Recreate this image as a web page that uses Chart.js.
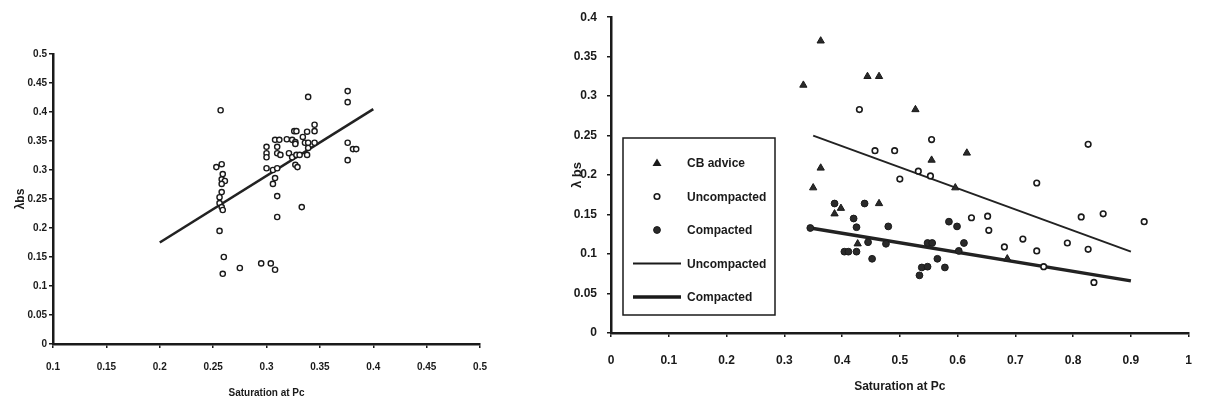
<!DOCTYPE html>
<html>
<head>
<meta charset="utf-8">
<script src="https://cdn.jsdelivr.net/npm/chart.js@4"></script>
<style>
body { margin: 0; background: #fff; width: 1208px; height: 405px; overflow: hidden; position: relative; }
canvas { position: absolute; top: 0; }
#leftChart { left: 0; }
#rightChart { left: 520px; }
</style>
</head>
<body>
<canvas id="leftChart" width="500" height="405"></canvas>
<canvas id="rightChart" width="688" height="405"></canvas>
<script>
// --- left plot: saturation vs lambda ---
const leftSat = [0.257,0.253,0.258,0.259,0.258,0.261,0.258,0.258,0.256,0.256,0.258,0.259,0.256,0.260,0.259,0.275,0.295,0.304,0.308,
    0.300,0.300,0.300,0.308,0.312,0.310,0.310,0.313,0.300,0.306,0.310,0.308,0.306,0.310,0.310,0.333,0.319,0.326,0.328,0.324,0.327,
    0.327,0.321,0.324,0.328,0.331,0.327,0.329,0.334,0.336,0.338,0.339,0.339,0.338,0.345,0.345,0.345,0.339,0.376,0.376,0.376,0.381,0.384,0.376];
const leftLambda = [0.403,0.305,0.310,0.293,0.284,0.281,0.276,0.262,0.253,0.243,0.236,0.231,0.195,0.150,0.121,0.131,0.139,0.139,0.128,
    0.340,0.329,0.322,0.352,0.352,0.340,0.329,0.326,0.303,0.300,0.303,0.286,0.276,0.255,0.219,0.236,0.353,0.367,0.367,0.352,0.348,
    0.345,0.329,0.322,0.326,0.326,0.309,0.305,0.357,0.347,0.366,0.347,0.338,0.326,0.378,0.367,0.347,0.426,0.436,0.417,0.347,0.336,0.336,0.317];
const leftFitX = [0.2, 0.4];
const leftFitY = [0.175, 0.405];

// --- right plot ---
const cbSat = [0.333,0.363,0.444,0.464,0.363,0.350,0.527,0.555,0.616,0.596,0.398,0.387,0.464,0.427,0.686];
const cbLambda = [0.314,0.370,0.325,0.325,0.209,0.184,0.283,0.219,0.228,0.184,0.158,0.151,0.164,0.113,0.094];
const uncSat = [0.430,0.457,0.491,0.555,0.532,0.553,0.500,0.737,0.826,0.624,0.652,0.654,0.681,0.713,0.737,0.749,0.790,0.814,0.826,0.836,0.852,0.923];
const uncLambda = [0.283,0.231,0.231,0.245,0.205,0.199,0.195,0.190,0.239,0.146,0.148,0.130,0.109,0.119,0.104,0.084,0.114,0.147,0.106,0.064,0.151,0.141];
const compSat = [0.345,0.387,0.439,0.420,0.425,0.480,0.445,0.476,0.404,0.411,0.425,0.452,0.548,0.556,0.585,0.599,0.611,0.602,0.565,0.578,0.538,0.548,0.534];
const compLambda = [0.133,0.164,0.164,0.145,0.134,0.135,0.115,0.113,0.103,0.103,0.103,0.094,0.114,0.114,0.141,0.135,0.114,0.104,0.094,0.083,0.083,0.084,0.073];
const uncFitX = [0.35, 0.9];
const uncFitY = [0.25, 0.103];
const compFitX = [0.345, 0.9];
const compFitY = [0.133, 0.066];

const pts = (xs, ys) => xs.map((x, i) => ({ x: x, y: ys[i] }));
const FONT = '"Liberation Sans", Arial, sans-serif';
const INK = '#1a1a1a';

function axis(min, max, step, size, pad, titleText, titleSize, titlePad, fitSize, horiz) {
    return {
        type: 'linear', min: min, max: max,
        border: { color: INK, width: 2.5 },
        grid: { drawOnChartArea: false, drawTicks: true, tickLength: 4, color: INK, lineWidth: 1.5 },
        ticks: { stepSize: step, color: INK, padding: pad, maxRotation: 0, autoSkip: false,
                 font: { family: FONT, size: size, weight: 'bold' },
                 callback: v => String(+v.toFixed(2)) },
        title: { display: true, text: titleText, color: INK, font: { family: FONT, size: titleSize, weight: 'bold' }, padding: titlePad },
        afterFit: s => { if (horiz) s.height = fitSize; else s.width = fitSize; }
    };
}

// Left
new Chart(document.getElementById('leftChart'), {
    type: 'scatter',
    data: {
        datasets: [
            { label: 'data', data: pts(leftSat, leftLambda), pointStyle: 'circle', pointRadius: 2.6,
              borderColor: INK, backgroundColor: '#fff', borderWidth: 1.4 },
            { label: 'fit', data: pts(leftFitX, leftFitY), showLine: true, pointRadius: 0,
              borderColor: '#222', borderWidth: 2.6 }
        ]
    },
    options: {
        responsive: false, animation: false, devicePixelRatio: 1,
        layout: { padding: { top: 54, right: 18, left: 0, bottom: 0 } },
        plugins: { legend: { display: false }, tooltip: { enabled: false } },
        scales: {
            x: axis(0.1, 0.5, 0.05, 10, 13, 'Saturation at Pc', 10, { top: 0, bottom: 6 }, 61, true),
            y: axis(0, 0.5, 0.05, 10, 2, 'λbs', 12, { top: 13, bottom: 0 }, 53, false)
        }
    }
});

// legend box drawn inside the plot, like the original
const boxLegend = {
    id: 'boxLegend',
    afterDraw(chart) {
        const ctx = chart.ctx;
        const bx = 103, by = 138, bw = 152, bh = 177;
        ctx.save();
        ctx.fillStyle = '#fff';
        ctx.fillRect(bx, by, bw, bh);
        ctx.strokeStyle = INK; ctx.lineWidth = 1.5;
        ctx.strokeRect(bx, by, bw, bh);
        ctx.font = 'bold 12px ' + FONT;
        ctx.textBaseline = 'middle';
        chart.data.datasets.forEach((ds, i) => {
            const y = by + 25 + i * 33.5;
            const sx = bx + 34;
            ctx.fillStyle = INK; ctx.strokeStyle = INK;
            if (ds.showLine) {
                ctx.lineWidth = ds.borderWidth;
                ctx.beginPath(); ctx.moveTo(bx + 10, y); ctx.lineTo(bx + 58, y); ctx.stroke();
            } else if (ds.pointStyle === 'triangle') {
                ctx.beginPath(); ctx.moveTo(sx, y - 4.5); ctx.lineTo(sx + 4.5, y + 3); ctx.lineTo(sx - 4.5, y + 3); ctx.closePath(); ctx.fill();
            } else {
                ctx.beginPath(); ctx.arc(sx, y, ds.pointRadius, 0, Math.PI * 2);
                ctx.fillStyle = ds.backgroundColor; ctx.fill();
                ctx.lineWidth = ds.borderWidth; ctx.stroke();
            }
            ctx.fillStyle = INK;
            ctx.fillText(ds.label, bx + 64, y + 1);
        });
        ctx.restore();
    }
};

// Right
new Chart(document.getElementById('rightChart'), {
    type: 'scatter',
    data: {
        datasets: [
            { label: 'CB advice', data: pts(cbSat, cbLambda), pointStyle: 'triangle', pointRadius: 4.2,
              borderColor: INK, backgroundColor: '#2a2a2a', borderWidth: 1 },
            { label: 'Uncompacted', data: pts(uncSat, uncLambda), pointStyle: 'circle', pointRadius: 2.8,
              borderColor: INK, backgroundColor: '#fff', borderWidth: 1.6 },
            { label: 'Compacted', data: pts(compSat, compLambda), pointStyle: 'circle', pointRadius: 3.4,
              borderColor: INK, backgroundColor: '#2a2a2a', borderWidth: 1 },
            { label: 'Uncompacted', data: pts(uncFitX, uncFitY), showLine: true, pointRadius: 0,
              borderColor: '#222', borderWidth: 2 },
            { label: 'Compacted', data: pts(compFitX, compFitY), showLine: true, pointRadius: 0,
              borderColor: '#222', borderWidth: 3.5 }
        ]
    },
    options: {
        responsive: false, animation: false, devicePixelRatio: 1,
        layout: { padding: { top: 15, right: 11, left: 0, bottom: 0 } },
        plugins: { legend: { display: false }, tooltip: { enabled: false } },
        scales: {
            x: axis(0, 1, 0.1, 12, 16, 'Saturation at Pc', 12, { top: 0, bottom: 11 }, 72, true),
            y: axis(0, 0.4, 0.05, 12, 10, 'λ bs', 13, { top: 50, bottom: 0 }, 91, false)
        }
    },
    plugins: [boxLegend]
});
</script>
</body>
</html>
